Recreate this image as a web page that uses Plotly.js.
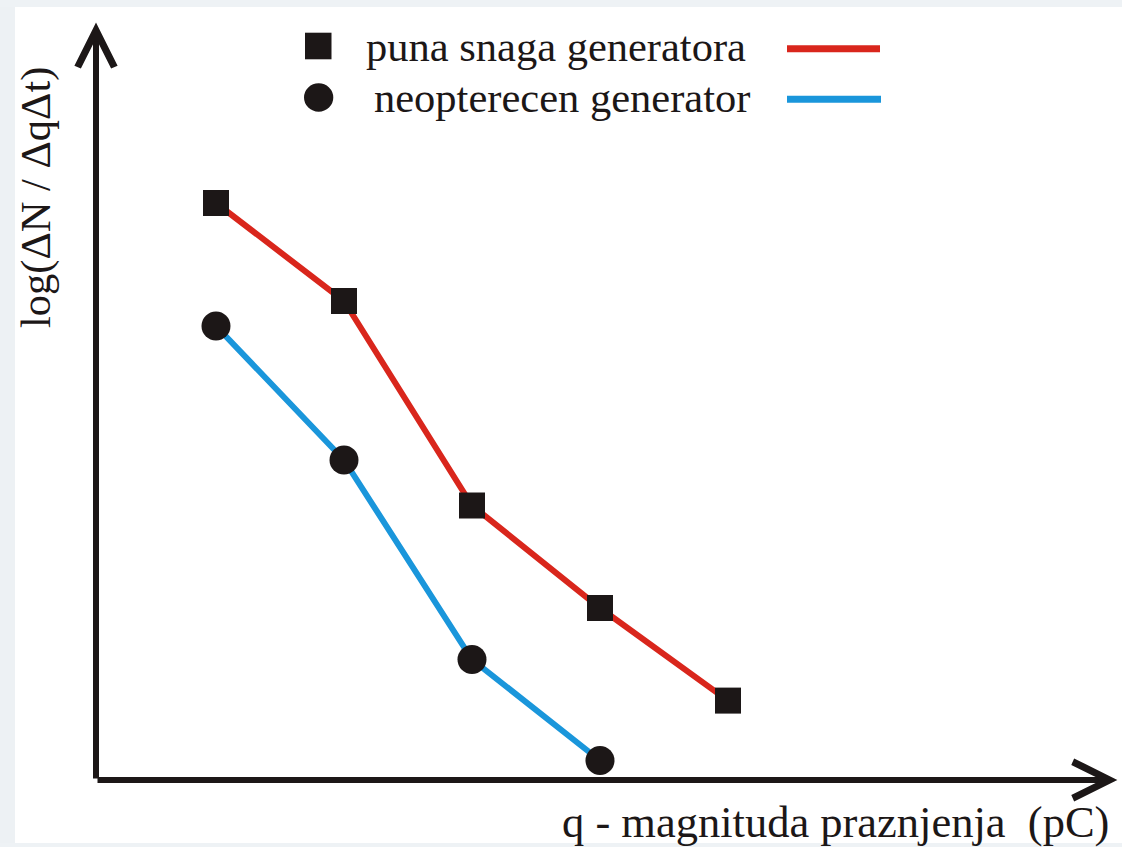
<!DOCTYPE html>
<html>
<head>
<meta charset="utf-8">
<script src="https://cdn.plot.ly/plotly-3.0.1.min.js"></script>
<style>html,body{margin:0;padding:0;background:#fff;}#chart{width:1122px;height:847px;}</style>
</head>
<body>
<div id="chart"></div>
<script>
// Data (arbitrary units, no tick labels in the original)
const qSteps = [1, 2, 3, 4, 5];
const fullLoad = [5.77, 4.79, 2.745, 1.72, 0.794];          // puna snaga generatora
const noLoadSteps = [1, 2, 3, 4];
const noLoad = [4.54, 3.20, 1.205, 0.195];                  // neopterecen generator
const seriesNames = ['puna snaga generatora', 'neopterecen generator'];
const xAxisTitle = 'q - magnituda praznjenja  (pC)';
const yAxisTitle = 'log(ΔN / ΔqΔt)';

const W = 1122, H = 847;
const M = {l: 96, r: 4, t: 22, b: 67};
const PW = W - M.l - M.r, PH = H - M.t - M.b;
const fx = px => (px - M.l) / PW;
const fy = py => (H - M.b - py) / PH;

const xMin = 0.0625, xMax = xMin + PW / 128;
const yMin = 0, yMax = PH / 100;

const FONT = '"Liberation Serif", "Times New Roman", serif';
const INK = '#1c1717';
const RED = '#d9261c';
const BLUE = '#1a96db';
const FS = 42.5;

const traces = [
  {x: noLoadSteps, y: noLoad, name: seriesNames[1], type: 'scatter', mode: 'lines+markers',
   line: {color: BLUE, width: 6}, marker: {symbol: 'circle', size: 29, color: INK}, cliponaxis: false},
  {x: qSteps, y: fullLoad, name: seriesNames[0], type: 'scatter', mode: 'lines+markers',
   line: {color: RED, width: 6}, marker: {symbol: 'square', size: 26, color: INK}, cliponaxis: false}
];

const hidden = {showgrid: false, zeroline: false, showline: false, showticklabels: false, ticks: ''};

const layout = {
  width: W, height: H,
  margin: M,
  paper_bgcolor: '#ffffff', plot_bgcolor: 'rgba(0,0,0,0)',
  showlegend: false,
  xaxis: Object.assign({range: [xMin, xMax], fixedrange: true}, hidden),
  yaxis: Object.assign({range: [yMin, yMax], fixedrange: true}, hidden),
  shapes: [
    // faint page edges
    {type: 'rect', xref: 'paper', yref: 'paper', x0: fx(0), x1: fx(15), y0: fy(H), y1: fy(0), fillcolor: '#edf1f4', line: {width: 0}, layer: 'below'},
    {type: 'rect', xref: 'paper', yref: 'paper', x0: fx(0), x1: fx(W), y0: fy(7), y1: fy(0), fillcolor: '#eef2f5', line: {width: 0}, layer: 'below'},
    {type: 'rect', xref: 'paper', yref: 'paper', x0: fx(0), x1: fx(W), y0: fy(H), y1: fy(843), fillcolor: '#eef2f5', line: {width: 0}, layer: 'below'},
    // legend symbols
    {type: 'rect', xref: 'paper', yref: 'paper', x0: fx(305), x1: fx(331.5), y0: fy(59.3), y1: fy(32.7), fillcolor: INK, line: {width: 0}},
    {type: 'circle', xref: 'paper', yref: 'paper', x0: fx(304), x1: fx(333.3), y0: fy(111.7), y1: fy(83.3), fillcolor: INK, line: {width: 0}},
    {type: 'line', xref: 'paper', yref: 'paper', x0: fx(787), x1: fx(880), y0: fy(48.7), y1: fy(48.7), line: {color: RED, width: 7}},
    {type: 'line', xref: 'paper', yref: 'paper', x0: fx(787), x1: fx(881), y0: fy(99.3), y1: fy(99.3), line: {color: BLUE, width: 7}}
  ],
  annotations: [
    // axis arrows
    {x: xMax - 0.005, y: 0, ax: xMin, ay: 0, xref: 'x', yref: 'y', axref: 'x', ayref: 'y',
     text: '', showarrow: true, arrowhead: 5, arrowsize: 1.2, arrowwidth: 6, arrowcolor: INK, standoff: 0},
    {x: xMin, y: yMax - 0.005, ax: xMin, ay: 0, xref: 'x', yref: 'y', axref: 'x', ayref: 'y',
     text: '', showarrow: true, arrowhead: 5, arrowsize: 1.2, arrowwidth: 6, arrowcolor: INK, standoff: 0},
    // legend texts
    {x: fx(364), y: fy(46), xref: 'paper', yref: 'paper', xanchor: 'left', yanchor: 'middle',
     text: seriesNames[0], showarrow: false, font: {family: FONT, size: FS, color: INK}},
    {x: fx(372), y: fy(97.5), xref: 'paper', yref: 'paper', xanchor: 'left', yanchor: 'middle',
     text: seriesNames[1], showarrow: false, font: {family: FONT, size: FS, color: INK}},
    // axis titles
    {x: fx(1111), y: fy(822), xref: 'paper', yref: 'paper', xanchor: 'right', yanchor: 'middle',
     text: xAxisTitle, showarrow: false, font: {family: FONT, size: 44.5, color: INK}},
    {x: fx(36), y: fy(198), xref: 'paper', yref: 'paper', xanchor: 'center', yanchor: 'middle', textangle: -90,
     text: yAxisTitle, showarrow: false, font: {family: FONT, size: FS, color: INK}}
  ]
};

Plotly.newPlot('chart', traces, layout, {displayModeBar: false, staticPlot: true});
</script>
</body>
</html>
